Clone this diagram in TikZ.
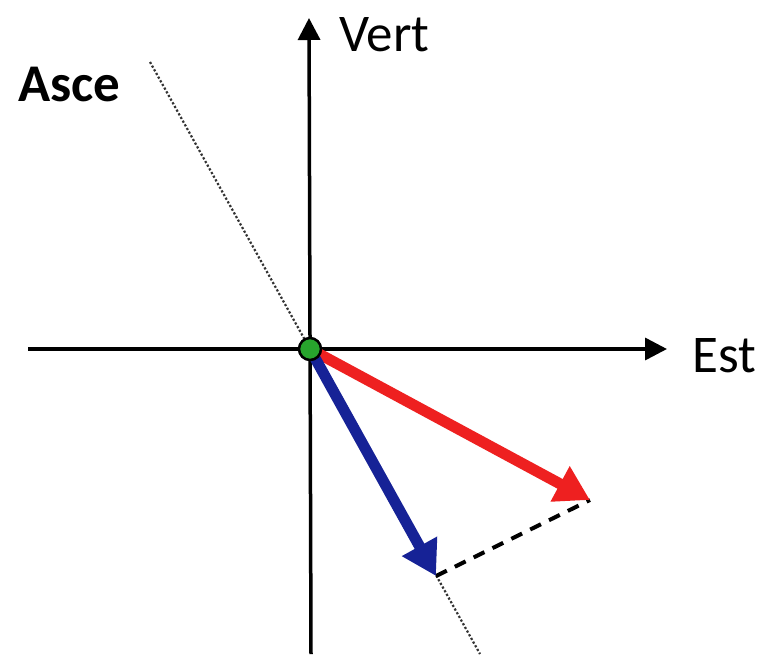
\documentclass[tikz,border=0pt]{standalone}
\usepackage{fontspec}
\setmainfont{Carlito}
\usetikzlibrary{arrows.meta}
\definecolor{vred}{RGB}{238,32,32}
\definecolor{vblue}{RGB}{22,34,150}
\definecolor{vgreen}{RGB}{40,165,45}
\begin{document}
\begin{tikzpicture}[x=1pt,y=-1pt,
  axis/.style={line width=3.5pt,-{Triangle[length=22pt,width=22pt]}},
  vec/.style={line width=11pt,-{Triangle[length=34pt,width=38pt]}},
  lbl/.style={font=\fontsize{53}{58}\selectfont,inner sep=0pt,anchor=west}]
\useasboundingbox[fill=white] (0,0) rectangle (763,654);
\coordinate (O) at (310,349);
\coordinate (W) at (28,349);
\coordinate (E) at (667,349);
\coordinate (S) at (311,654);
\coordinate (N) at (309,18);
\coordinate (AT) at (150,62);
\coordinate (AB) at (480,654);
\coordinate (R) at (590,500);
\coordinate (B) at (436,576);
% Asce line
\draw[line width=2.2pt,dotted,black!80] (AT) -- (AB);
% axes
\draw[axis] (W) -- (E);
\draw[axis] (S) -- (N);
% dashed projection
\draw[line width=4pt,dash pattern=on 12pt off 9pt] (B) -- (R);
% vectors
\draw[vec,vred] (O) -- (R);
\draw[vec,vblue] (O) -- (B);
% origin
\node[circle,fill=vgreen,draw=black,line width=2.5pt,minimum size=22pt,inner sep=0pt] (dot) at (O) {};
% labels
\node[lbl] (vert) at (339,35) {Vert};
\node[lbl] (est) at (692,356) {Est};
\node[lbl,font=\fontsize{53}{58}\selectfont\bfseries] (asce) at (18,85) {Asce};
\end{tikzpicture}
\end{document}
